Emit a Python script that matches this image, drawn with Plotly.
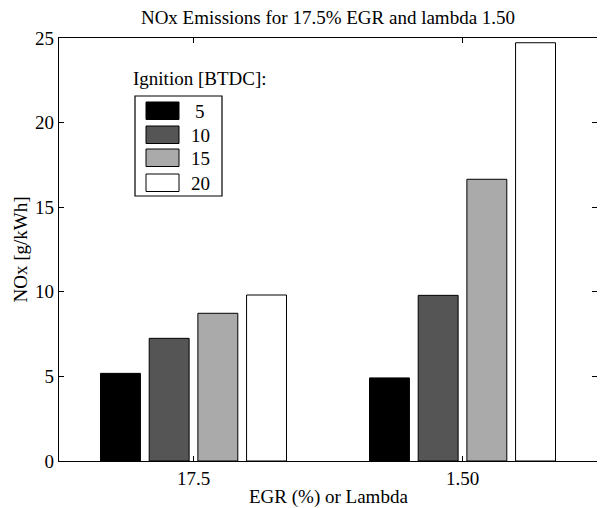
import plotly.graph_objects as go

categories = ["17.5", "1.50"]
ignition = ["5", "10", "15", "20"]
nox_values = {
    "5": [5.18, 4.91],
    "10": [7.25, 9.79],
    "15": [8.73, 16.65],
    "20": [9.81, 24.72],
}
colors = ["#000000", "#555555", "#aaaaaa", "#ffffff"]

FONT = "Liberation Serif, Times New Roman, serif"
FS = 19

fig = go.Figure()
for ig, col in zip(ignition, colors):
    fig.add_trace(go.Bar(
        x=categories, y=nox_values[ig], name=ig,
        marker=dict(color=col, line=dict(color="#000000", width=1)),
        showlegend=False,
    ))

# page body has an 8px default margin: the figure starts at (8, 8) on screen
OFF = 8
PW, PH = 605, 508
W, H = PW - OFF, PH - OFF
L, R, T, B = 59, 597, 38, 461  # plot area in screen pixels

def px(x):
    return (x - L) / (R - L)

def py(y):
    return (B - y) / (B - T)

box_l, box_r, box_t, box_b = 135, 222, 96, 196
shapes = [dict(type="rect", xref="paper", yref="paper",
               x0=px(box_l), x1=px(box_r), y0=py(box_b), y1=py(box_t),
               line=dict(color="black", width=1.2), fillcolor="white", layer="above")]
annotations = [
    dict(text="Ignition [BTDC]:", xref="paper", yref="paper",
         x=px(131), y=py(78), xanchor="left", yanchor="middle",
         showarrow=False, font=dict(family=FONT, size=FS, color="black")),
    dict(text="EGR (%) or Lambda", xref="paper", yref="paper",
         x=px((L + R) / 2), y=py(497), xanchor="center", yanchor="middle",
         showarrow=False, font=dict(family=FONT, size=FS, color="black")),
    dict(text="NOx [g/kWh]", xref="paper", yref="paper", textangle=-90,
         x=px(20), y=py((T + B) / 2), xanchor="center", yanchor="middle",
         showarrow=False, font=dict(family=FONT, size=FS, color="black")),
]
row_top = [102, 126, 149, 174]
for i, (ig, col) in enumerate(zip(ignition, colors)):
    t = row_top[i]
    shapes.append(dict(type="rect", xref="paper", yref="paper",
                       x0=px(146), x1=px(179), y0=py(t + 17.5), y1=py(t),
                       line=dict(color="black", width=1), fillcolor=col, layer="above"))
    annotations.append(dict(text=ig, xref="paper", yref="paper",
                            x=px(200), y=py(t + 9), xanchor="center", yanchor="middle",
                            showarrow=False, font=dict(family=FONT, size=FS, color="black")))

fig.update_layout(
    width=W, height=H,
    margin=dict(l=L - OFF, r=PW - R, t=T - OFF, b=PH - B, autoexpand=False),
    paper_bgcolor="white", plot_bgcolor="white",
    font=dict(family=FONT, size=FS, color="black"),
    title=dict(text="NOx Emissions for 17.5% EGR and lambda 1.50",
               xref="container", yref="container",
               x=((L + R) / 2 - OFF) / W, xanchor="center",
               y=1 - (17 - OFF) / H, yanchor="middle",
               font=dict(family=FONT, size=FS, color="black")),
    barmode="group", bargap=0.276, bargroupgap=0.18,
    shapes=shapes, annotations=annotations,
    showlegend=False,
)
fig.update_xaxes(
    type="category", range=[-0.5, 1.5], automargin=False,
    showline=True, linecolor="black", linewidth=1.3, mirror="ticks",
    ticks="inside", ticklen=5, tickcolor="black",
    showgrid=False, zeroline=False,
    tickfont=dict(family=FONT, size=FS),
)
fig.update_yaxes(
    range=[0, 25], tickvals=[0, 5, 10, 15, 20, 25], automargin=False,
    showline=True, linecolor="black", linewidth=1.3, mirror="ticks",
    ticks="inside", ticklen=5, tickcolor="black",
    showgrid=False, zeroline=False,
    tickfont=dict(family=FONT, size=FS),
)

fig.write_html("out.html")
